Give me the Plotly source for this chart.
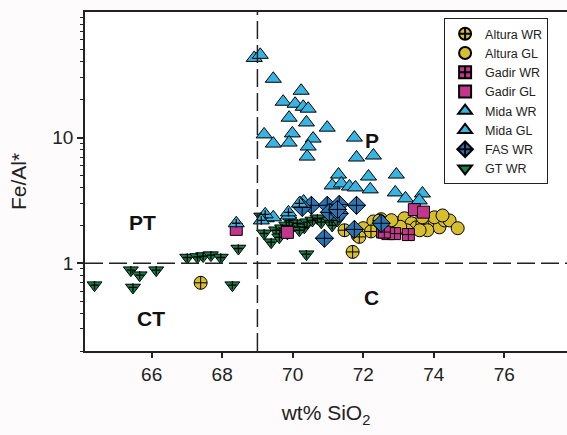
import plotly.graph_objects as go
import numpy as np

# ---- data ----
mida_gl_x = [68.91, 69.08, 69.45, 70.24, 69.73, 70.07, 70.30, 70.44, 69.90, 70.39, 70.98, 69.19, 69.99,
             69.45, 69.90, 70.58, 70.44, 70.41, 71.75, 71.81, 72.29, 71.30, 72.15, 72.94, 71.12, 71.38,
             71.61, 71.78, 72.20, 72.91, 73.20, 73.68, 73.59, 69.25, 69.45, 70.22, 70.31, 69.88]
mida_gl_y = [43.1, 45.6, 29.4, 23.6, 19.3, 18.6, 17.6, 17.0, 14.4, 13.2, 12.0, 10.6, 10.8,
             8.96, 9.13, 9.82, 8.49, 7.06, 10.0, 6.94, 7.20, 5.08, 4.90, 5.08, 4.16, 4.31,
             4.08, 4.01, 3.87, 3.66, 3.28, 3.59, 3.16, 2.28, 2.32, 2.99, 3.10, 2.40]

mida_wr_x = [68.40, 69.22, 70.19, 69.88, 69.11]
mida_wr_y = [2.08, 2.45, 2.99, 2.54, 2.19]

gt_x = [64.38, 65.41, 65.66, 65.47, 66.13, 67.01, 67.30, 67.46, 67.68, 67.96, 68.46, 68.29, 70.39,
        69.19, 69.39, 69.53, 69.62, 69.70, 69.90, 69.99, 70.13, 70.33, 70.41, 70.56, 70.70, 70.81,
        71.04, 71.12, 71.27, 71.27, 69.85, 69.82, 69.11, 70.19]
gt_y = [0.669, 0.880, 0.803, 0.641, 0.880, 1.11, 1.12, 1.14, 1.16, 1.11, 1.31, 0.669, 1.18,
        1.73, 1.47, 1.83, 1.61, 1.90, 2.19, 1.93, 2.08, 1.93, 2.12, 2.19, 2.28, 2.12,
        2.19, 2.00, 2.19, 2.49, 1.73, 2.00, 2.36, 1.83]

altura_gl_x = [72.29, 72.51, 72.60, 72.94, 73.17, 73.37, 73.51, 73.68, 73.88, 74.02, 74.16, 74.31,
               74.45, 74.68, 73.82, 73.60, 73.23, 74.02, 73.68, 71.84, 72.00, 74.25, 73.05, 72.80]
altura_gl_y = [2.15, 2.24, 2.08, 2.08, 2.28, 2.08, 1.93, 2.08, 2.00, 2.19, 1.93, 2.19,
               2.19, 1.90, 1.83, 1.83, 1.83, 2.32, 2.32, 1.67, 1.90, 2.40, 1.95, 2.20]

altura_wr_x = [71.47, 71.70, 72.22, 72.46, 71.89, 67.39]
altura_wr_y = [1.83, 1.23, 1.79, 2.19, 1.62, 0.698]

gadir_gl_x = [68.40, 73.45, 73.71, 69.85, 72.55]
gadir_gl_y = [1.86, 2.67, 2.55, 1.76, 1.77]

gadir_wr_x = [72.70, 72.89, 73.28, 72.60]
gadir_wr_y = [1.72, 1.72, 1.69, 1.77]

fas_x = [70.53, 70.98, 71.32, 71.81, 71.04, 71.32, 70.90, 71.75, 70.27, 72.51, 71.27]
fas_y = [2.89, 2.89, 2.94, 2.89, 2.54, 2.49, 1.58, 1.86, 2.78, 2.08, 2.68]

field_labels = ["P", "PT", "CT", "C"]
field_x = [72.24, 65.73, 65.98, 72.24]
field_y = [9.47, 2.12, 0.366, 0.537]

x_ticks = [66, 68, 70, 72, 74, 76]
y_ticks = [1, 10]

# ---- styles ----
C_ALT = "#D6BE2E"
C_GAD = "#C2378C"
C_MIDA = "#38B4E2"
C_FAS = "#2A74B4"
C_GT = "#18804A"
EDGE = dict(color="black", width=1)
FONT = "Liberation Sans, Arial, sans-serif"
INK = "#222"

fig = go.Figure()

def add(x, y, name, symbol, color, size=12, group=None):
    fig.add_trace(go.Scatter(x=x, y=y, mode="markers", name=name, showlegend=False,
                             legendgroup=group or name,
                             marker=dict(symbol=symbol, color=color, size=size, line=EDGE)))

def add_cross(x, y, group, size=6):
    fig.add_trace(go.Scatter(x=x, y=y, mode="markers", showlegend=False, legendgroup=group,
                             hoverinfo="skip",
                             marker=dict(symbol="cross-thin-open", size=size, color="black",
                                         line=dict(color="black", width=1.3))))

# draw order (back to front)
add(gt_x, gt_y, "GT WR", "triangle-down", C_GT, 13, group="gt")
add_cross(gt_x, gt_y, "gt")
add(mida_gl_x, mida_gl_y, "Mida GL", "triangle-up", C_MIDA, 14, group="mgl")
add(altura_gl_x, altura_gl_y, "Altura GL", "circle", C_ALT, 13, group="agl")
add(altura_wr_x, altura_wr_y, "Altura WR", "circle-cross", C_ALT, 13, group="awr")
add(gadir_gl_x, gadir_gl_y, "Gadir GL", "square", C_GAD, 12, group="ggl")
add(gadir_wr_x, gadir_wr_y, "Gadir WR", "square-cross", C_GAD, 12, group="gwr")
add(fas_x, fas_y, "FAS WR", "diamond-cross", C_FAS, 14, group="fas")
add(mida_wr_x, mida_wr_y, "Mida WR", "triangle-up", C_MIDA, 14, group="mwr")
add_cross(mida_wr_x, mida_wr_y, "mwr")

# legend entries (in legend order)
legend_items = [("Altura WR", "circle-cross", C_ALT), ("Altura GL", "circle", C_ALT),
                ("Gadir WR", "square-cross", C_GAD), ("Gadir GL", "square", C_GAD),
                ("Mida WR", "triangle-up", C_MIDA), ("Mida GL", "triangle-up", C_MIDA),
                ("FAS WR", "diamond-cross", C_FAS), ("GT WR", "triangle-down", C_GT)]
for name, sym, col in legend_items:
    fig.add_trace(go.Scatter(x=[None], y=[None], mode="markers", name=name,
                             marker=dict(symbol=sym, color=col, size=12, line=EDGE)))

# dashed field boundaries
fig.add_shape(type="line", xref="x", yref="paper", x0=69, x1=69, y0=0, y1=1,
              line=dict(color=INK, width=1.5, dash="18px,6px"))
fig.add_shape(type="line", xref="paper", yref="y", x0=0, x1=1, y0=1, y1=1,
              line=dict(color=INK, width=1.5, dash="18px,6px"))

for t, x, y in zip(field_labels, field_x, field_y):
    fig.add_annotation(x=x, y=np.log10(y), text="<b>%s</b>" % t, showarrow=False,
                       font=dict(size=21, color="#111", family=FONT))

minor_vals = [v * m for m in (0.1, 1, 10) for v in range(2, 10)]
fig.update_xaxes(range=[64.11, 77.78], tickvals=x_ticks, ticks="outside", ticklen=5,
                 tickwidth=1.5, tickcolor=INK, showline=True, linecolor=INK, linewidth=1.5,
                 mirror=True, showgrid=False, zeroline=False,
                 tickfont=dict(size=19, color=INK, family=FONT),
                 title=dict(text="wt% SiO<sub>2</sub>", font=dict(size=21, color=INK, family=FONT),
                            standoff=22))
fig.update_yaxes(type="log", range=[np.log10(0.2), 2], tickvals=y_ticks,
                 ticktext=["1", "10"], ticks="outside", ticklen=6, tickwidth=1.5, tickcolor=INK,
                 showline=True, linecolor=INK, linewidth=1.5, mirror=False, showgrid=False,
                 zeroline=False, tickfont=dict(size=19, color=INK, family=FONT),
                 minor=dict(tickvals=minor_vals, ticks="outside", ticklen=3, tickcolor=INK,
                            tickwidth=1.2, showgrid=False),
                 title=dict(text="Fe/Al*", font=dict(size=21, color=INK, family=FONT), standoff=20))

fig.update_layout(width=567, height=435, margin=dict(l=85, r=0, t=12, b=84),
                  paper_bgcolor="#FDFBFB", plot_bgcolor="white",
                  legend=dict(x=0.745, y=0.982, xanchor="left", yanchor="top",
                              bgcolor="white", bordercolor=INK, borderwidth=1,
                              font=dict(size=12.5, color=INK, family=FONT),
                              itemsizing="constant", tracegroupgap=0),
                  showlegend=True)

fig.write_html("out.html")
